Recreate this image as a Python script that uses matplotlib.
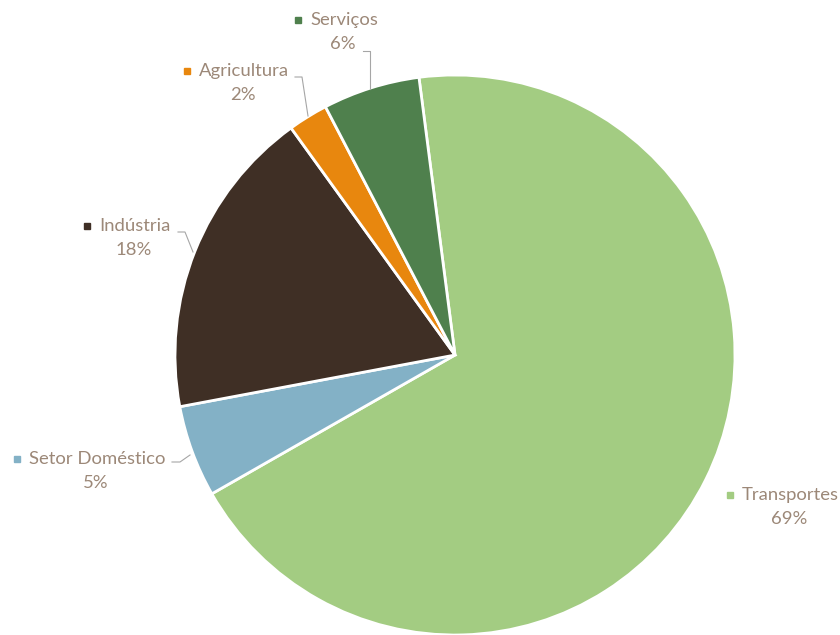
import matplotlib.pyplot as plt

# Daten
kategorien = ['Transportes', 'Setor Doméstico', 'Indústria', 'Agricultura', 'Serviços']
werte = [68.8, 5.3, 18.0, 2.3, 5.6]
farben = ['#A3CC82', '#83B1C6', '#3F2F25', '#E8870E', '#4F804D']

text_farbe = '#9C8878'
plt.rcParams['font.family'] = ['Lato', 'DejaVu Sans']

fig = plt.figure(figsize=(8.4, 6.35), dpi=100)
ax = fig.add_axes([175 / 840, 0, 560 / 840, 560 / 635])

ax.pie(werte, colors=farben, startangle=97.4, counterclock=False, radius=1,
       wedgeprops=dict(edgecolor='white', linewidth=2))
ax.set_xlim(-1, 1)
ax.set_ylim(-1, 1)
ax.set_aspect('equal')
ax.axis('off')


def px(x, y):
    # Pixel im Bild -> Datenkoordinaten (Mitte 455/355, Radius 280)
    return (x - 455) / 280, (355 - y) / 280


# Label-Positionen (Mitte des Textblocks, Pixel)
label_pos = {
    'Transportes': (782, 495),
    'Setor Doméstico': (89, 459),
    'Indústria': (127, 226),
    'Agricultura': (236, 71),
    'Serviços': (336, 20),
}

leader = {
    'Setor Doméstico': [(172, 462), (180, 462), (190, 455)],
    'Indústria': [(178, 232), (185, 232), (193, 252)],
    'Agricultura': [(295, 77), (302, 77), (308, 116)],
    'Serviços': [(363, 51), (370, 51), (370, 89)],
}

for name, wert, farbe in zip(kategorien, werte, farben):
    cx, cy = label_pos[name]
    t = ax.text(*px(cx + 8, cy), name, ha='center', va='center',
                fontsize=13.3, color=text_farbe, clip_on=False)
    ax.text(*px(cx + 7, cy + 24), f'{wert:.0f}%', ha='center', va='center',
            fontsize=13.3, color=text_farbe, clip_on=False)
    # kleines Quadrat vor dem Namen
    fig.canvas.draw()
    bb = t.get_window_extent()
    mx = bb.x0 - 12
    my = 635 - cy
    sx, sy = ax.transData.inverted().transform((mx, my))
    ax.plot(sx, sy, marker='s', markersize=5, color=farbe, clip_on=False)
    if name in leader:
        pts = [px(*p) for p in leader[name]]
        ax.plot([p[0] for p in pts], [p[1] for p in pts], color='#A6A6A6',
                linewidth=0.8, clip_on=False)

fig.savefig('out.png', dpi=100)
